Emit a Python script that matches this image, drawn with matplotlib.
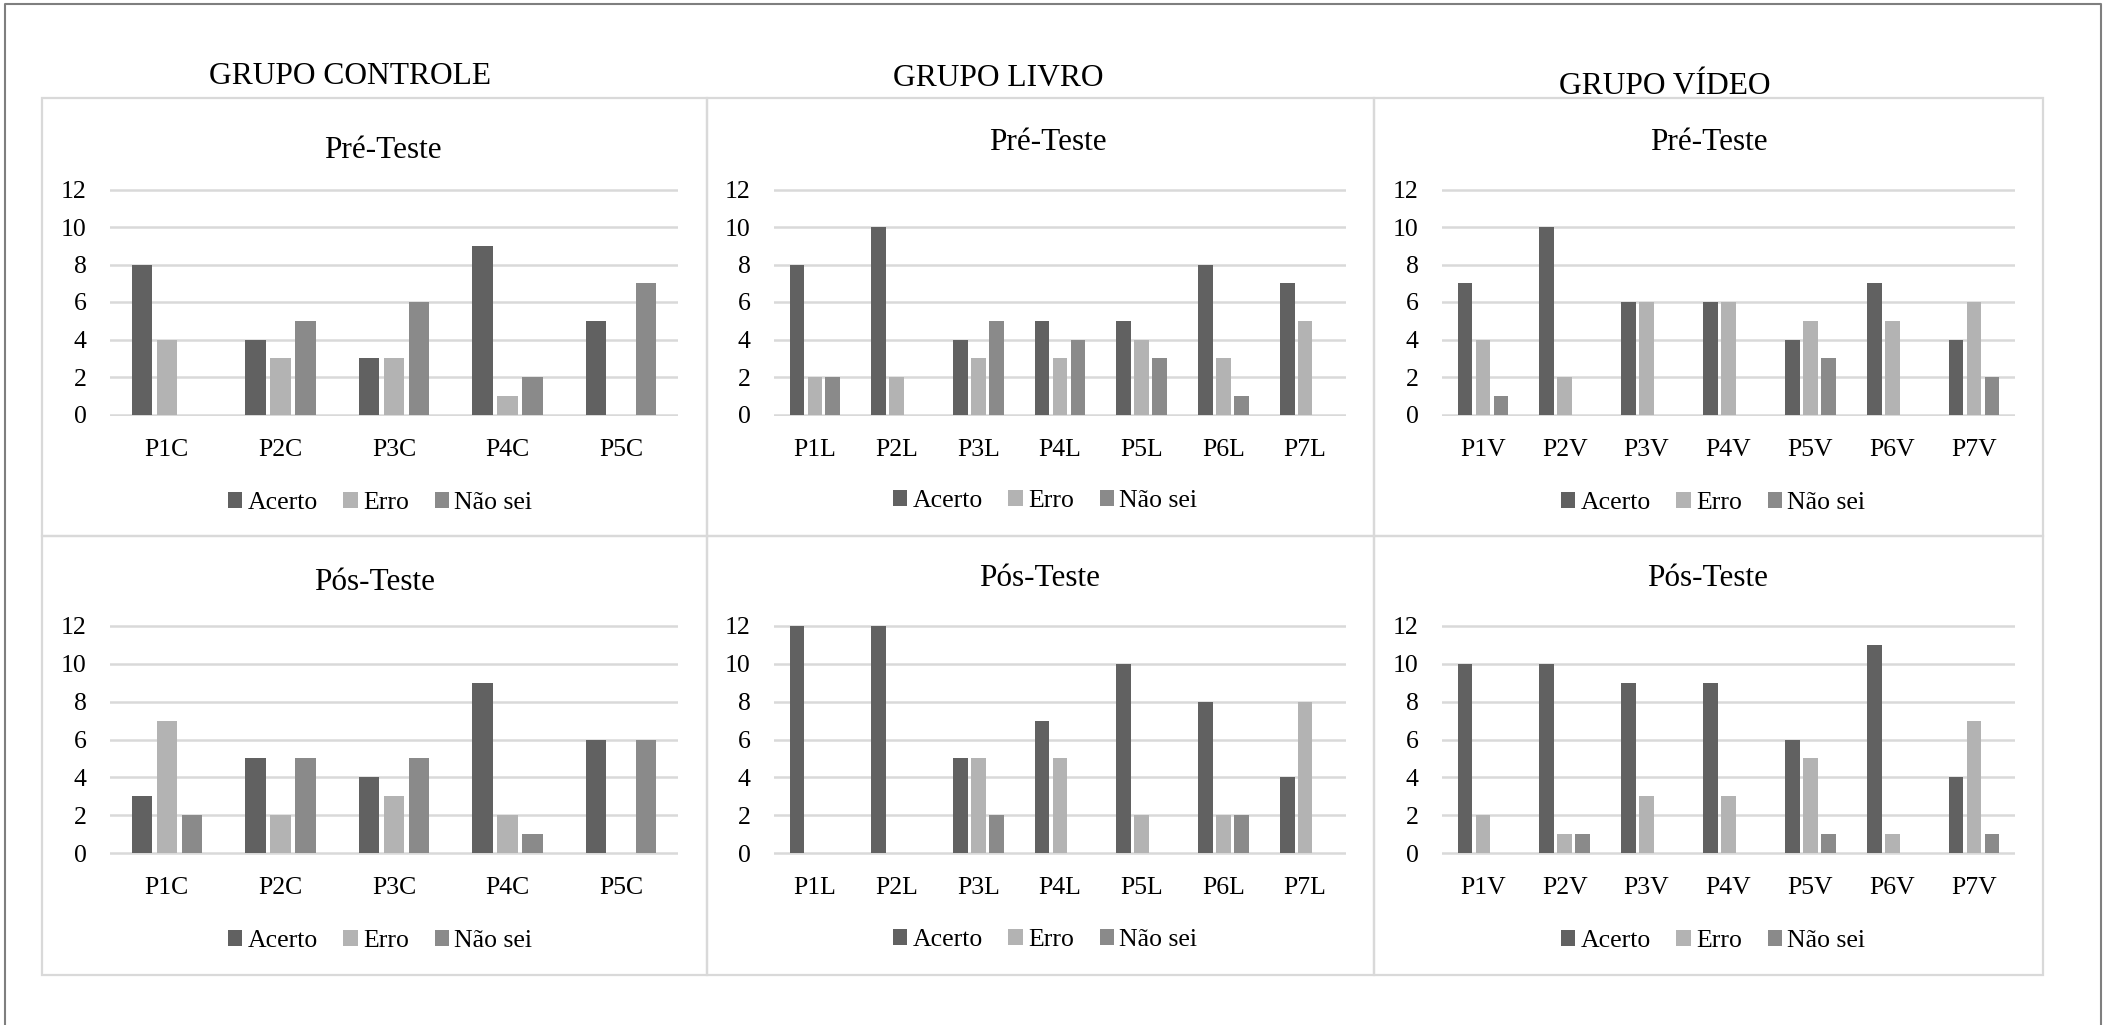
import matplotlib.pyplot as plt
from matplotlib.patches import Rectangle, Patch
from matplotlib.lines import Line2D

plt.rcParams['font.family'] = ['Liberation Serif', 'DejaVu Serif']

W, H = 2112, 1025

# ---- data ----
series_names = ["Acerto", "Erro", "Não sei"]
series_colors = ["#616161", "#b3b3b3", "#8a8a8a"]

group_titles = ["GRUPO CONTROLE", "GRUPO LIVRO", "GRUPO VÍDEO"]
row_titles = ["Pré-Teste", "Pós-Teste"]

controle_labels = ["P1C", "P2C", "P3C", "P4C", "P5C"]
livro_labels = ["P1L", "P2L", "P3L", "P4L", "P5L", "P6L", "P7L"]
video_labels = ["P1V", "P2V", "P3V", "P4V", "P5V", "P6V", "P7V"]

controle_pre_acerto = [8, 4, 3, 9, 5]
controle_pre_erro = [4, 3, 3, 1, 0]
controle_pre_naosei = [0, 5, 6, 2, 7]

controle_pos_acerto = [3, 5, 4, 9, 6]
controle_pos_erro = [7, 2, 3, 2, 0]
controle_pos_naosei = [2, 5, 5, 1, 6]

livro_pre_acerto = [8, 10, 4, 5, 5, 8, 7]
livro_pre_erro = [2, 2, 3, 3, 4, 3, 5]
livro_pre_naosei = [2, 0, 5, 4, 3, 1, 0]

livro_pos_acerto = [12, 12, 5, 7, 10, 8, 4]
livro_pos_erro = [0, 0, 5, 5, 2, 2, 8]
livro_pos_naosei = [0, 0, 2, 0, 0, 2, 0]

video_pre_acerto = [7, 10, 6, 6, 4, 7, 4]
video_pre_erro = [4, 2, 6, 6, 5, 5, 6]
video_pre_naosei = [1, 0, 0, 0, 3, 0, 2]

video_pos_acerto = [10, 10, 9, 9, 6, 11, 4]
video_pos_erro = [2, 1, 3, 3, 5, 1, 7]
video_pos_naosei = [0, 1, 0, 0, 1, 0, 1]

panels = [
    [(controle_labels, controle_pre_acerto, controle_pre_erro, controle_pre_naosei),
     (livro_labels, livro_pre_acerto, livro_pre_erro, livro_pre_naosei),
     (video_labels, video_pre_acerto, video_pre_erro, video_pre_naosei)],
    [(controle_labels, controle_pos_acerto, controle_pos_erro, controle_pos_naosei),
     (livro_labels, livro_pos_acerto, livro_pos_erro, livro_pos_naosei),
     (video_labels, video_pos_acerto, video_pos_erro, video_pos_naosei)],
]

# ---- layout (pixels) ----
col_x = [(110, 678), (774, 1346), (1442, 2015)]
row_y = [(189.5, 414.5), (626, 853)]
box_x = [42, 707, 1374, 2043]
box_y = [98, 536, 975]
group_pos = [(350, 77), (998, 79), (1665, 87)]
title_pos = [[(383, 151), (1048, 142), (1709, 142)],
             [(375, 583), (1040, 578), (1708, 578)]]
legend_pos = [[(380, 503), (1045, 501), (1713, 503)],
              [(380, 941), (1045, 940), (1713, 941)]]

fig = plt.figure(figsize=(W / 100, H / 100), dpi=100)
fig.patch.set_facecolor("white")


def fx(x):
    return x / W


def fy(y):
    return 1 - y / H


def draw_panel(ax, labels, acerto, erro, naosei):
    n = len(labels)
    xs = list(range(n))
    step = 0.22
    width = 0.18
    for k, vals in enumerate([acerto, erro, naosei]):
        ax.bar([x + (k - 1) * step for x in xs], vals, width=width,
               color=series_colors[k], zorder=3)
    ax.set_xlim(-0.5, n - 0.5)
    ax.set_ylim(-0.1, 12.1)
    ax.set_yticks(range(0, 13, 2))
    ax.set_xticks(xs)
    ax.set_xticklabels(labels)
    ax.yaxis.grid(True, color="#d9d9d9", linewidth=1.8, zorder=0)
    ax.set_axisbelow(True)
    for s in ax.spines.values():
        s.set_visible(False)
    ax.tick_params(axis="y", length=0, pad=17, labelsize=18.5)
    ax.tick_params(axis="x", length=0, pad=16, labelsize=18.5)
    ax.set_facecolor("none")


for r in range(2):
    for c in range(3):
        x0, x1 = col_x[c]
        y12, y0 = row_y[r]
        ppu = (y0 - y12) / 12
        top = y12 - 0.1 * ppu
        bot = y0 + 0.1 * ppu
        ax = fig.add_axes([fx(x0), fy(bot), (x1 - x0) / W, (bot - top) / H])
        labels, a, e, ns = panels[r][c]
        draw_panel(ax, labels, a, e, ns)

        tx, ty = title_pos[r][c]
        fig.text(fx(tx), fy(ty), row_titles[r], ha="center", va="center", fontsize=22.5)

        handles = [Patch(facecolor=series_colors[k], edgecolor="none") for k in range(3)]
        lx, ly = legend_pos[r][c]
        fig.legend(handles, series_names, loc="center", bbox_to_anchor=(fx(lx), fy(ly)),
                   ncol=3, frameon=False, fontsize=18.5, handlelength=0.56,
                   handleheight=0.56, handletextpad=0.2, columnspacing=1.0,
                   borderpad=0, borderaxespad=0)

        # panel box
        fig.patches.append(Rectangle((fx(box_x[c]), fy(box_y[r + 1])),
                                     (box_x[c + 1] - box_x[c]) / W,
                                     (box_y[r + 1] - box_y[r]) / H,
                                     transform=fig.transFigure, fill=False,
                                     edgecolor="#d9d9d9", linewidth=1.6, zorder=1))

for c in range(3):
    gx, gy = group_pos[c]
    fig.text(fx(gx), fy(gy), group_titles[c], ha="center", va="center", fontsize=22.7)

# outer frame (left, top, right)
frame_x = [4.5, 4.5, 2101, 2101]
frame_y = [H, 4, 4, H]
fig.lines.append(Line2D([fx(x) for x in frame_x], [fy(y) for y in frame_y],
                        transform=fig.transFigure, color="#7f7f7f", linewidth=1.5))

fig.savefig("out.png", dpi=100, facecolor="white")
